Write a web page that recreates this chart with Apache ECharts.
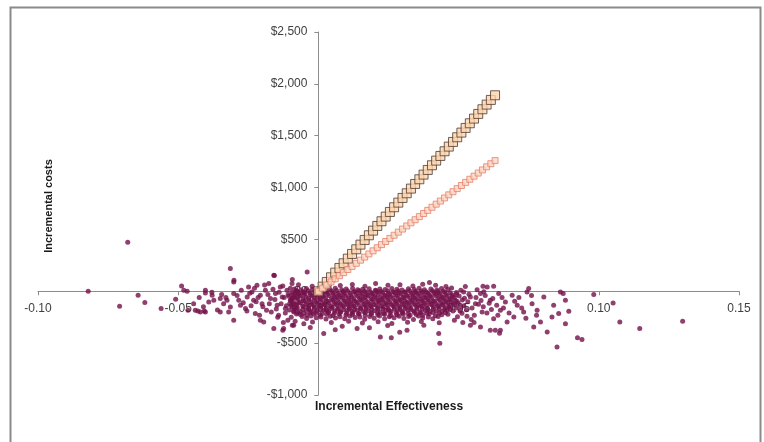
<!DOCTYPE html>
<html>
<head>
<meta charset="utf-8">
<script src="https://cdn.jsdelivr.net/npm/echarts@6/dist/echarts.min.js"></script>
<style>
  html, body { margin: 0; padding: 0; background: #fff; }
  #chart-container { width: 764px; height: 442px; }
</style>
</head>
<body>
<div id="chart-container"></div>
<script>
var dom = document.getElementById("chart-container");
var myChart = echarts.init(dom, null, { renderer: "canvas" });

// x / y tick settings
const effectTicks = [-0.10, -0.05, 0.00, 0.05, 0.10, 0.15];
const costTicks = [-1000, -500, 0, 500, 1000, 1500, 2000, 2500];

// willingness-to-pay threshold points
const thresholdEffect = [0, 0.0015, 0.003, 0.0045, 0.006, 0.0075, 0.009, 0.0105, 0.012, 0.0135, 0.015,
  0.0165, 0.018, 0.0195, 0.021, 0.0225, 0.024, 0.0255, 0.027, 0.0285, 0.03, 0.0315, 0.033, 0.0345,
  0.036, 0.0375, 0.039, 0.0405, 0.042, 0.0435, 0.045, 0.0465, 0.048, 0.0495, 0.051, 0.0525, 0.054,
  0.0555, 0.057, 0.0585, 0.06, 0.0615, 0.063];
const costHighWtp = [0, 45, 90, 135, 180, 225, 270, 315, 360, 405, 450, 495, 540, 585, 630, 675, 720,
  765, 810, 855, 900, 945, 990, 1035, 1080, 1125, 1170, 1215, 1260, 1305, 1350, 1395, 1440, 1485,
  1530, 1575, 1620, 1665, 1710, 1755, 1800, 1845, 1890];
const costLowWtp = [0, 30, 60, 90, 120, 150, 180, 210, 240, 270, 300, 330, 360, 390, 420, 450, 480,
  510, 540, 570, 600, 630, 660, 690, 720, 750, 780, 810, 840, 870, 900, 930, 960, 990, 1020, 1050,
  1080, 1110, 1140, 1170, 1200, 1230, 1260];

// bootstrap replicates [incremental effectiveness, incremental cost]
const simCore = [
  [-0.0071,62],[-0.0022,48],[0.0035,71],[0.0078,55],[0.0121,66],[0.0166,49],[0.0204,74],[0.0248,58],[0.0291,63],[0.0337,51],[0.0372,69],[0.0418,57],[0.0455,47],
  [-0.0085,22],[-0.0062,15],[-0.0043,28],[-0.0021,18],[0.0002,24],[0.0019,12],[0.0041,20],[0.0060,30],[0.0083,16],[0.0099,21],[0.0122,26],[0.0140,14],[0.0158,19],[0.0181,25],[0.0203,11],[0.0219,23],[0.0238,17],[0.0262,27],[0.0280,20],[0.0298,13],[0.0321,24],[0.0342,18],[0.0359,29],[0.0378,15],[0.0401,21],[0.0423,12],[0.0439,26],[0.0462,17],
  [-0.0095,-12],[-0.0071,-18],[-0.0052,-9],[-0.0031,-16],[-0.0012,-11],[0.0011,-20],[0.0029,-8],[0.0052,-14],[0.0070,-19],[0.0089,-10],[0.0112,-15],[0.0131,-7],[0.0149,-17],[0.0170,-12],[0.0191,-21],[0.0210,-9],[0.0229,-14],[0.0250,-18],[0.0271,-11],[0.0289,-16],[0.0310,-8],[0.0331,-19],[0.0349,-13],[0.0370,-10],[0.0390,-17],[0.0411,-12],[0.0430,-20],[0.0451,-9],[0.0470,-15],[0.0492,-11],
  [-0.0105,-48],[-0.0084,-55],[-0.0063,-44],[-0.0045,-52],[-0.0022,-46],[-0.0003,-57],[0.0018,-49],[0.0039,-43],[0.0058,-54],[0.0081,-50],[0.0098,-45],[0.0119,-56],[0.0141,-47],[0.0160,-53],[0.0178,-42],[0.0201,-51],[0.0222,-58],[0.0239,-46],[0.0258,-50],[0.0281,-44],[0.0302,-55],[0.0318,-48],[0.0339,-52],[0.0361,-45],[0.0380,-57],[0.0399,-49],[0.0420,-43],[0.0441,-54],[0.0459,-47],[0.0478,-51],[0.0502,-45],
  [-0.0098,-86],[-0.0073,-80],[-0.0054,-91],[-0.0033,-83],[-0.0014,-88],[0.0009,-79],[0.0028,-92],[0.0051,-85],[0.0069,-81],[0.0092,-89],[0.0109,-84],[0.0128,-93],[0.0151,-82],[0.0169,-87],[0.0192,-78],[0.0211,-90],[0.0230,-85],[0.0249,-81],[0.0272,-88],[0.0290,-83],[0.0309,-91],[0.0332,-86],[0.0350,-80],[0.0369,-89],[0.0391,-84],[0.0409,-92],[0.0432,-82],[0.0450,-87],[0.0471,-79],[0.0489,-90],[0.0513,-85],
  [-0.0102,-118],[-0.0081,-125],[-0.0064,-114],[-0.0042,-121],[-0.0024,-127],[-0.0001,-116],[0.0021,-123],[0.0038,-112],[0.0061,-120],[0.0079,-126],[0.0101,-117],[0.0118,-122],[0.0139,-113],[0.0162,-124],[0.0181,-119],[0.0199,-128],[0.0219,-115],[0.0241,-121],[0.0260,-126],[0.0279,-118],[0.0299,-123],[0.0321,-114],[0.0341,-120],[0.0358,-127],[0.0379,-116],[0.0401,-122],[0.0419,-118],[0.0442,-125],[0.0461,-113],[0.0481,-121],[0.0499,-117],
  [-0.0093,-152],[-0.0075,-158],[-0.0052,-149],[-0.0034,-161],[-0.0011,-155],[0.0008,-147],[0.0031,-159],[0.0049,-153],[0.0072,-162],[0.0090,-150],[0.0111,-157],[0.0129,-146],[0.0152,-160],[0.0171,-154],[0.0189,-149],[0.0212,-158],[0.0231,-152],[0.0248,-163],[0.0270,-151],[0.0291,-156],[0.0311,-148],[0.0329,-159],[0.0352,-153],[0.0371,-147],[0.0389,-160],[0.0410,-155],[0.0429,-150],[0.0452,-158],[0.0469,-152],[0.0491,-161],[0.0508,-149],
  [-0.0088,-188],[-0.0065,-194],[-0.0043,-185],[-0.0026,-197],[-0.0004,-190],[0.0019,-183],[0.0037,-195],[0.0059,-189],[0.0078,-198],[0.0102,-186],[0.0119,-192],[0.0138,-184],[0.0161,-196],[0.0179,-191],[0.0200,-187],[0.0221,-199],[0.0240,-185],[0.0259,-193],[0.0282,-188],[0.0300,-195],[0.0319,-183],[0.0340,-191],[0.0362,-197],[0.0381,-186],[0.0398,-192],[0.0421,-189],[0.0440,-196],[0.0458,-184],[0.0480,-191],
  [-0.0064,-224],[-0.0041,-231],[-0.0017,-219],[0.0006,-228],[0.0029,-222],[0.0052,-234],[0.0074,-220],[0.0098,-229],[0.0121,-225],[0.0143,-218],[0.0167,-232],[0.0189,-223],[0.0212,-227],[0.0236,-221],[0.0258,-233],[0.0281,-226],[0.0303,-219],[0.0327,-230],[0.0349,-224],[0.0372,-228],[0.0395,-220],[0.0417,-235],[0.0440,-226],[0.0462,-222],
  [-0.0042,-262],[-0.0008,-255],[0.0027,-268],[0.0061,-258],[0.0094,-264],[0.0131,-252],[0.0165,-270],[0.0199,-259],[0.0236,-266],[0.0270,-254],[0.0305,-262],[0.0339,-271],[0.0372,-257],[0.0408,-265],
  [-0.0021,-296],[0.0046,-302],[0.0108,-289],[0.0157,-305],[0.0213,-293],[0.0262,-310],[0.0318,-298],[0.0367,-291],[0.0431,-304]
];
const simCoreMid = [
  [-0.0075,2],[-0.0054,-4],[-0.0036,6],[-0.0013,-1],[0.0006,4],[0.0026,-6],[0.0047,1],[0.0065,7],[0.0087,-3],[0.0104,3],[0.0127,-5],[0.0146,5],[0.0165,0],[0.0186,-7],[0.0206,4],[0.0224,-2],[0.0247,6],[0.0266,-4],[0.0284,2],[0.0307,-6],[0.0325,5],[0.0346,-1],[0.0366,3],[0.0384,-5],[0.0407,6],[0.0426,-3],[0.0445,1],
  [-0.0090,-31],[-0.0068,-36],[-0.0049,-28],[-0.0028,-34],[-0.0007,-30],[0.0014,-38],[0.0033,-27],[0.0055,-33],[0.0074,-37],[0.0093,-29],[0.0115,-35],[0.0134,-31],[0.0156,-26],[0.0174,-36],[0.0195,-32],[0.0214,-28],[0.0236,-37],[0.0254,-30],[0.0275,-34],[0.0295,-27],[0.0314,-36],[0.0336,-31],[0.0355,-29],[0.0376,-35],[0.0394,-32],[0.0416,-27],[0.0435,-37],[0.0455,-30],[0.0476,-34],
  [-0.0094,-68],[-0.0076,-63],[-0.0055,-71],[-0.0035,-66],[-0.0015,-62],[0.0006,-70],[0.0025,-65],[0.0047,-72],[0.0066,-61],[0.0085,-68],[0.0107,-64],[0.0126,-71],[0.0147,-66],[0.0166,-60],[0.0187,-69],[0.0207,-65],[0.0226,-72],[0.0245,-63],[0.0266,-67],[0.0286,-70],[0.0305,-62],[0.0326,-68],[0.0345,-64],[0.0366,-71],[0.0385,-66],[0.0404,-61],[0.0426,-69],[0.0445,-65],[0.0466,-72],[0.0485,-63],
  [-0.0089,-101],[-0.0069,-106],[-0.0047,-98],[-0.0027,-104],[-0.0006,-100],[0.0015,-107],[0.0034,-97],[0.0056,-103],[0.0075,-108],[0.0095,-99],[0.0114,-105],[0.0135,-101],[0.0155,-96],[0.0176,-106],[0.0195,-102],[0.0215,-98],[0.0235,-107],[0.0254,-100],[0.0276,-104],[0.0295,-97],[0.0315,-106],[0.0335,-102],[0.0355,-99],[0.0374,-105],[0.0395,-101],[0.0414,-96],[0.0436,-107],[0.0455,-100],[0.0474,-104],[0.0495,-98],
  [-0.0097,-137],[-0.0077,-133],[-0.0056,-141],[-0.0036,-136],[-0.0016,-131],[0.0005,-140],[0.0024,-135],[0.0046,-142],[0.0065,-132],[0.0086,-138],[0.0105,-134],[0.0125,-141],[0.0146,-136],[0.0165,-130],[0.0186,-139],[0.0206,-135],[0.0225,-142],[0.0246,-133],[0.0265,-137],[0.0285,-140],[0.0305,-132],[0.0325,-138],[0.0346,-134],[0.0365,-141],[0.0386,-136],[0.0405,-131],[0.0425,-139],[0.0445,-135],[0.0465,-142],[0.0486,-133],
  [-0.0079,-171],[-0.0056,-176],[-0.0035,-168],[-0.0015,-174],[0.0007,-170],[0.0027,-178],[0.0048,-167],[0.0068,-173],[0.0089,-177],[0.0110,-169],[0.0129,-175],[0.0150,-171],[0.0170,-166],[0.0190,-176],[0.0211,-172],[0.0230,-168],[0.0250,-177],[0.0271,-170],[0.0291,-174],[0.0310,-167],[0.0330,-176],[0.0351,-172],[0.0371,-169],[0.0390,-175],[0.0410,-171],[0.0431,-166],[0.0450,-176],[0.0470,-170],
  [-0.0073,-207],[-0.0052,-211],[-0.0030,-204],[-0.0009,-209],[0.0013,-213],[0.0035,-205],[0.0057,-210],[0.0079,-203],[0.0101,-212],[0.0123,-207],[0.0145,-214],[0.0167,-204],[0.0189,-209],[0.0211,-206],[0.0233,-213],[0.0255,-205],[0.0277,-210],[0.0299,-207],[0.0321,-214],[0.0343,-204],[0.0365,-209],[0.0387,-212],[0.0409,-205],[0.0431,-210],[0.0453,-207],
  [-0.0058,-243],[-0.0027,-239],[0.0009,-247],[0.0042,-241],[0.0077,-245],[0.0112,-238],[0.0148,-248],[0.0183,-242],[0.0218,-239],[0.0253,-246],[0.0288,-241],[0.0322,-244],[0.0357,-238],[0.0392,-247],[0.0427,-242]
];
const simLow = [
  [0.0221,-441],[0.0260,-447],[0.0019,-408],[-0.0029,-350],[-0.0088,-328],[-0.0052,-312],[0.0138,-360],
  [0.0316,-376],[0.0433,-501],[0.0429,-408],[0.0376,-328],[0.0542,-328],[0.0578,-344],[0.0613,-376],
  [0.0649,-376],[0.0646,-405],[0.0085,-338],[0.0182,-352],[0.0247,-330],[0.0290,-395],[0.0060,-372],
  [-0.0127,-376],[-0.0093,-328]
];
const simLeft = [
  [-0.0314,219],[-0.0302,90],[-0.0403,10],[-0.0403,-16],[-0.0468,0],[-0.0379,-39],[-0.0373,-87],[-0.0391,-103],
  [-0.0350,-70],[-0.0338,-119],[-0.0326,-87],[-0.0314,-151],[-0.0302,-22],[-0.0284,-87],[-0.0278,-135],[-0.0260,-167],
  [-0.0254,-55],[-0.0249,41],[-0.0237,-7],[-0.0231,-87],[-0.0225,-215],[-0.0219,58],[-0.0207,-39],[-0.0201,-119],
  [-0.0189,10],[-0.0185,-183],[-0.0177,74],[-0.0171,-70],[-0.0159,154],[-0.0153,-22],[-0.0147,-135],[-0.0142,-232],
  [-0.0136,41],[-0.0129,-55],[-0.0124,-360],[-0.0118,-167],[-0.0112,10],[-0.0109,-280],[-0.0100,-87],[-0.0094,74],
  [-0.0088,-200],[-0.0082,-22],[-0.0159,-360],[-0.0195,-296],[-0.0302,-280],[-0.0207,-280],[-0.0350,-200],
  [-0.0421,-200],[-0.0403,-200],[-0.0439,-183],[-0.0093,113],[-0.0040,186],
  [-0.0290,-40],[-0.0275,10],[-0.0268,-110],[-0.0255,-190],[-0.0245,-20],[-0.0240,-140],[-0.0228,30],[-0.0222,-100],
  [-0.0215,-60],[-0.0210,-230],[-0.0198,-150],[-0.0192,60],[-0.0180,-30],[-0.0175,-120],[-0.0168,-200],[-0.0162,20],
  [-0.0155,-80],[-0.0150,-170],[-0.0145,-250],[-0.0140,-10],[-0.0133,-120],[-0.0127,50],[-0.0122,-60],[-0.0118,-210],
  [-0.0114,-140],[-0.0108,-30],[-0.0104,-180],[-0.0100,30],[-0.0097,-250],[-0.0092,-120],[-0.0090,-60],[-0.0086,-160],
  [-0.0083,-290],[-0.0080,5],[-0.0078,-220],[-0.0125,-300],
  [-0.0445,-120],[-0.0425,-60],[-0.0410,-150],[-0.0380,-10],[-0.0360,-180],[-0.0345,-30],[-0.0330,-60],[-0.0320,-200]
];
const simRight = [
  [0.0518,-6],[0.0542,-55],[0.0560,-119],[0.0578,-22],[0.0584,-200],[0.0602,41],[0.0613,-87],[0.0625,-264],
  [0.0631,-376],[0.0643,-22],[0.0649,-183],[0.0667,-103],[0.0673,-296],[0.0691,-39],[0.0697,-248],[0.0709,-135],
  [0.0732,-200],[0.0744,-6],[0.0750,26],[0.0762,-119],[0.0768,-344],[0.0780,-183],[0.0792,-296],[0.0804,-55],
  [0.0816,-392],[0.0833,-248],[0.0839,-135],[0.0857,-215],[0.0863,-6],[0.0873,-22],[0.0881,-87],[0.0881,-312],
  [0.0893,-193],[0.0396,84],[0.0587,48],[0.0625,48],
  [0.0475,32],[0.0492,-30],[0.0508,10],[0.0521,-68],[0.0533,-102],[0.0519,-140],[0.0528,-178],[0.0512,-212],
  [0.0496,-246],[0.0537,-28],[0.0548,-160],[0.0556,-230],[0.0562,-60],[0.0571,-125],[0.0545,-272],[0.0580,-90],
  [0.0588,-150],[0.0595,-40],[0.0601,-210],[0.0609,-115],[0.0617,-175],[0.0524,45],[0.0566,15],[0.0590,-5],
  [0.0505,-190],[0.0530,-240],[0.0485,-280],[0.0515,-300],[0.0555,-300],[0.0622,-70],[0.0636,-135],[0.0640,-230],
  [0.0655,-60],[0.0660,-160],[0.0680,-210],[0.0700,-95],[0.0715,-60],[0.0725,-160],[0.0740,-260],[0.0760,-40],
  [0.0778,-230]
];
const simOutliers = [
  [-0.0821,0],[-0.0680,473],[-0.0709,-145],[-0.0643,-39],[-0.0619,-109],[-0.0561,-167],[-0.0488,51],[-0.0509,-77],
  [-0.0480,10],[-0.0465,-183],[-0.0430,-190],[-0.0407,-190],[-0.0301,106],[-0.0157,151],
  [0.0851,-537],[0.0924,-447],[0.0940,-466],[0.0982,-32],[0.1051,-113],[0.1075,-296],[0.1146,-360],[0.1299,-290]
];

const simPoints = simCore.concat(simCoreMid, simLow, simLeft, simRight, simOutliers);

const fontFamily = "'Liberation Sans', Arial, sans-serif";

// grid box in pixels; axes are shifted onto the zero lines with offset
const gridLeft = 38, gridRight = 25, gridTop = 32, gridBottom = 47;
const plotW = 764 - gridLeft - gridRight;
const plotH = 442 - gridTop - gridBottom;
const xMin = effectTicks[0], xMax = effectTicks[effectTicks.length - 1];
const yMin = costTicks[0], yMax = costTicks[costTicks.length - 1];
const yAxisOffset = -((0 - xMin) / (xMax - xMin)) * plotW;
const xAxisOffset = -((0 - yMin) / (yMax - yMin)) * plotH;

function money(v) {
  return (v < 0 ? "-$" : "$") + Math.abs(v).toLocaleString("en-US");
}

var option = {
  animation: false,
  backgroundColor: "#ffffff",
  grid: {
    left: gridLeft,
    right: gridRight,
    top: gridTop,
    bottom: gridBottom,
    containLabel: false,
    outerBoundsMode: "none"
  },
  xAxis: {
    type: "value",
    position: "bottom",
    offset: xAxisOffset,
    min: xMin,
    max: xMax,
    interval: 0.05,
    axisLine: { show: true, onZero: false, lineStyle: { color: "#8c8c8c", width: 1 } },
    axisTick: { show: true, length: 4, lineStyle: { color: "#8c8c8c" } },
    splitLine: { show: false },
    axisLabel: {
      margin: 11,
      color: "#404040",
      fontFamily: fontFamily,
      fontSize: 12,
      formatter: (v) => v.toFixed(2)
    }
  },
  yAxis: {
    type: "value",
    position: "left",
    offset: yAxisOffset,
    min: yMin,
    max: yMax,
    interval: 500,
    axisLine: { show: true, onZero: false, lineStyle: { color: "#8c8c8c", width: 1 } },
    axisTick: { show: true, length: 4, lineStyle: { color: "#8c8c8c" } },
    splitLine: { show: false },
    axisLabel: {
      margin: 11,
      color: "#404040",
      fontFamily: fontFamily,
      fontSize: 12,
      formatter: money
    }
  },
  graphic: [
    {
      type: "rect",
      silent: true,
      shape: { x: 10.5, y: 7.5, width: 750, height: 450 },
      style: { fill: "none", stroke: "#8a8a8a", lineWidth: 2 }
    },
    {
      type: "text",
      silent: true,
      x: 49,
      y: 206,
      rotation: Math.PI / 2,
      style: {
        text: "Incremental costs",
        fill: "#1a1a1a",
        font: "bold 11px " + fontFamily,
        textAlign: "center",
        textVerticalAlign: "middle"
      }
    },
    {
      type: "text",
      silent: true,
      x: 315,
      y: 407,
      style: {
        text: "Incremental Effectiveness",
        fill: "#1a1a1a",
        font: "bold 12px " + fontFamily,
        textAlign: "left",
        textVerticalAlign: "middle"
      }
    }
  ],
  series: [
    {
      name: "Simulations",
      type: "scatter",
      symbol: "circle",
      symbolSize: 5,
      itemStyle: { color: "#73104a" },
      data: simPoints
    },
    {
      name: "WTP high",
      type: "scatter",
      symbol: "rect",
      symbolSize: 9,
      itemStyle: { color: "#fcd4ae", borderColor: "#4d3a30", borderWidth: 1 },
      data: thresholdEffect.map((e, i) => [e, costHighWtp[i]])
    },
    {
      name: "WTP low",
      type: "scatter",
      symbol: "rect",
      symbolSize: 6,
      itemStyle: { color: "#fdd6c2", borderColor: "#e5806a", borderWidth: 1 },
      data: thresholdEffect.map((e, i) => [e, costLowWtp[i]])
    }
  ]
};

myChart.setOption(option);
window.addEventListener("resize", myChart.resize);
</script>
</body>
</html>
